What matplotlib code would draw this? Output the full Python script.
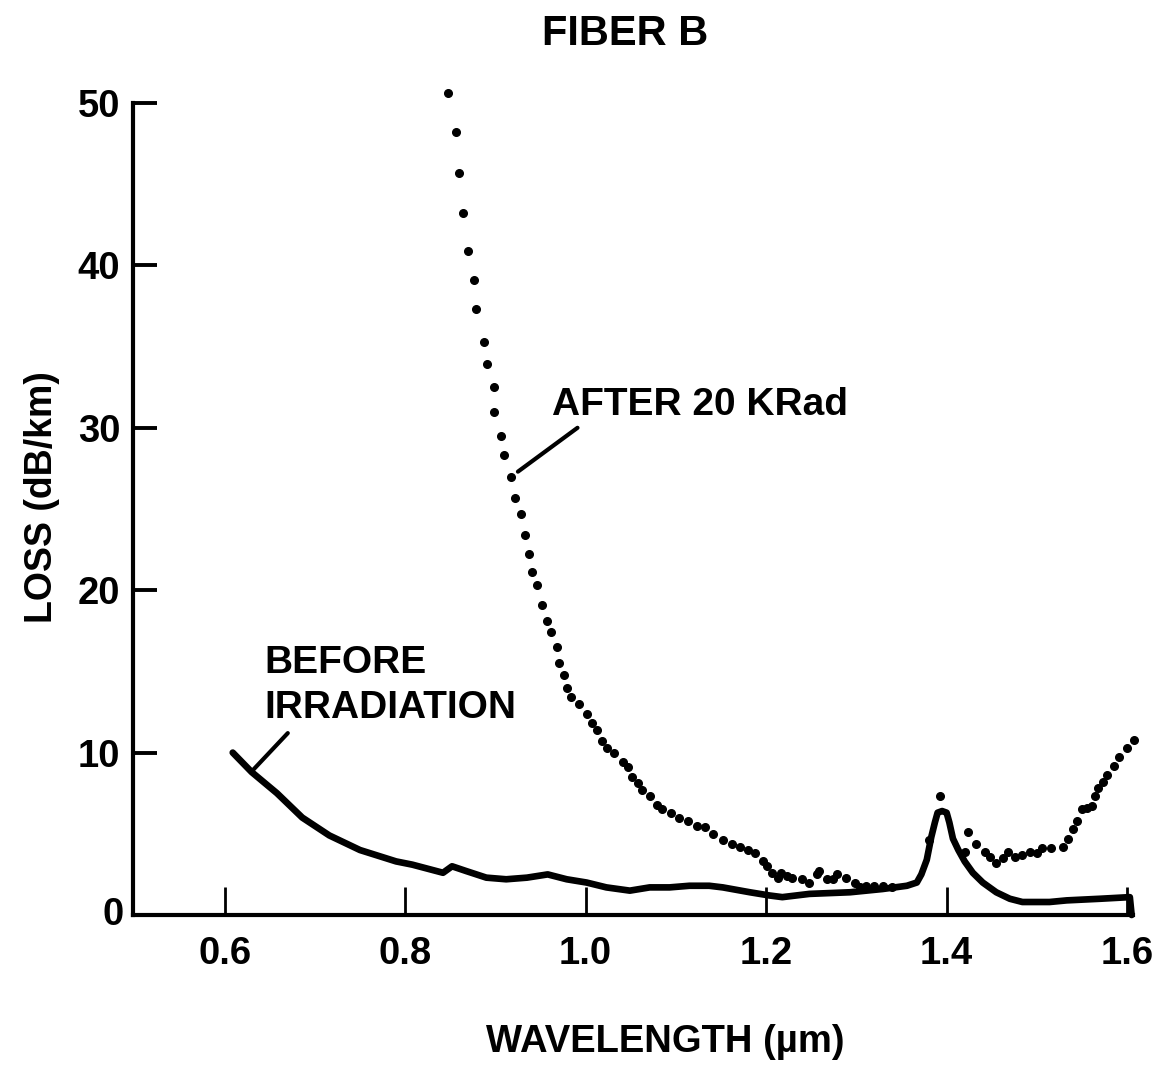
import matplotlib
matplotlib.use('agg')
import matplotlib.pyplot as plt

# before irradiation (solid line)
before_wl = [0.609, 0.630, 0.658, 0.686, 0.716, 0.750, 0.790, 0.808, 0.842, 0.852, 0.868,
             0.890, 0.912, 0.935, 0.958, 0.979, 1.001, 1.023, 1.049, 1.071, 1.093, 1.115,
             1.137, 1.152, 1.182, 1.204, 1.218, 1.248, 1.293, 1.329, 1.356, 1.367, 1.372,
             1.378, 1.383, 1.387, 1.390, 1.395, 1.400, 1.403, 1.407, 1.413, 1.420, 1.429,
             1.440, 1.455, 1.470, 1.484, 1.514, 1.533, 1.570, 1.603, 1.605]
before_loss = [10.0, 8.8, 7.5, 6.0, 4.9, 4.0, 3.3, 3.1, 2.6, 3.0, 2.7,
               2.3, 2.2, 2.3, 2.5, 2.2, 2.0, 1.7, 1.5, 1.7, 1.7, 1.8,
               1.8, 1.7, 1.4, 1.2, 1.1, 1.3, 1.4, 1.6, 1.8, 2.0, 2.5,
               3.4, 4.8, 5.7, 6.3, 6.4, 6.3, 5.7, 4.7, 4.0, 3.3, 2.6,
               2.0, 1.4, 1.0, 0.8, 0.8, 0.9, 1.0, 1.1, 0.0]

# after 20 KRad (dotted)
after_wl = [0.848, 0.856, 0.860, 0.864, 0.870, 0.876, 0.879, 0.887, 0.891, 0.898, 0.898,
            0.906, 0.910, 0.917, 0.922, 0.928, 0.933, 0.937, 0.941, 0.946, 0.952, 0.957,
            0.962, 0.968, 0.971, 0.976, 0.979, 0.984, 0.993, 1.001, 1.007, 1.013, 1.018,
            1.024, 1.032, 1.041, 1.047, 1.051, 1.058, 1.063, 1.071, 1.079, 1.085, 1.095,
            1.104, 1.113, 1.123, 1.132, 1.141, 1.152, 1.162, 1.171, 1.180, 1.188, 1.196,
            1.201, 1.206, 1.213, 1.217, 1.223, 1.229, 1.240, 1.248, 1.256, 1.259, 1.267,
            1.274, 1.279, 1.289, 1.298, 1.304, 1.311, 1.320, 1.329, 1.340, 1.381, 1.393,
            1.420, 1.424, 1.433, 1.442, 1.448, 1.455, 1.462, 1.468, 1.476, 1.484, 1.492,
            1.500, 1.506, 1.516, 1.529, 1.535, 1.540, 1.545, 1.550, 1.555, 1.561, 1.564,
            1.568, 1.573, 1.578, 1.586, 1.591, 1.600, 1.608]
after_loss = [50.6, 48.2, 45.7, 43.2, 40.9, 39.1, 37.3, 35.3, 33.9, 32.5, 31.0,
              29.5, 28.3, 27.0, 25.7, 24.7, 23.4, 22.2, 21.1, 20.3, 19.1, 18.1,
              17.4, 16.5, 15.5, 14.8, 14.0, 13.4, 13.0, 12.4, 11.8, 11.4, 10.7,
              10.3, 10.0, 9.4, 9.1, 8.5, 8.1, 7.7, 7.3, 6.8, 6.5, 6.3,
              6.0, 5.8, 5.5, 5.4, 5.0, 4.6, 4.4, 4.2, 4.0, 3.8, 3.3,
              3.0, 2.6, 2.3, 2.6, 2.4, 2.3, 2.2, 2.0, 2.5, 2.7, 2.2,
              2.2, 2.5, 2.3, 2.0, 1.7, 1.8, 1.8, 1.8, 1.7, 4.6, 7.3,
              3.9, 5.1, 4.4, 3.9, 3.6, 3.2, 3.5, 3.9, 3.6, 3.7, 3.9,
              3.8, 4.1, 4.1, 4.2, 4.7, 5.3, 5.8, 6.5, 6.6, 6.7, 7.3,
              7.8, 8.2, 8.6, 9.2, 9.7, 10.3, 10.8]

xticks = [0.6, 0.8, 1.0, 1.2, 1.4, 1.6]
yticks = [10, 20, 30, 40, 50]

plt.rcParams['font.family'] = ['Liberation Sans', 'DejaVu Sans']
plt.rcParams['font.weight'] = 'bold'

fig = plt.figure(figsize=(11.62, 10.68), dpi=100)
ax = fig.add_axes([133 / 1162, 1 - 915 / 1068, 1000 / 1162, 812 / 1068])

ax.plot(before_wl, before_loss, color='black', lw=4.8, solid_joinstyle='round',
        solid_capstyle='round', clip_on=False)
ax.plot(after_wl, after_loss, 'o', color='black', ms=5.5, clip_on=False)

ax.set_xlim(0.4985, 1.6065)
ax.set_ylim(0, 50)
for s in ['top', 'right']:
    ax.spines[s].set_visible(False)
for s in ['left', 'bottom']:
    ax.spines[s].set_linewidth(3)

ax.set_xticks(xticks)
ax.set_xticklabels(['%.1f' % v for v in xticks])
ax.set_yticks(yticks)
ax.tick_params(axis='x', direction='in', length=20, width=2, pad=15, labelsize=27.5)
ax.tick_params(axis='y', direction='in', length=17, width=2.8, pad=9, labelsize=27.5)
for t in ax.get_xticklabels() + ax.get_yticklabels():
    t.set_fontweight('bold')

# the "0" label at the origin
ax.text(-0.009, 0, '0', transform=ax.get_yaxis_transform(), ha='right', va='center',
        fontsize=27.5, fontweight='bold')

# annotations
ax.plot([0.925, 0.991], [27.3, 30.0], color='black', lw=3, solid_capstyle='round')
ax.text(0.963, 30.8, 'AFTER 20 KRad', fontsize=28, fontweight='bold', va='baseline')
ax.plot([0.631, 0.670], [8.9, 11.2], color='black', lw=3, solid_capstyle='round')
ax.text(0.644, 14.9, 'BEFORE', fontsize=28, fontweight='bold', va='baseline')
ax.text(0.644, 12.1, 'IRRADIATION', fontsize=28, fontweight='bold', va='baseline')

fig.text(625 / 1162, 1 - 45 / 1068, 'FIBER B', ha='center', va='baseline',
         fontsize=30, fontweight='heavy')
fig.text(665 / 1162, 1 - 1052 / 1068, 'WAVELENGTH (µm)', ha='center', va='baseline',
         fontsize=27.5, fontweight='bold')
fig.text(42 / 1162, 1 - 497 / 1068, 'LOSS (dB/km)', ha='center', va='center',
         rotation=90, fontsize=27, fontweight='bold')

fig.savefig('out.png', dpi=100, facecolor='white')
